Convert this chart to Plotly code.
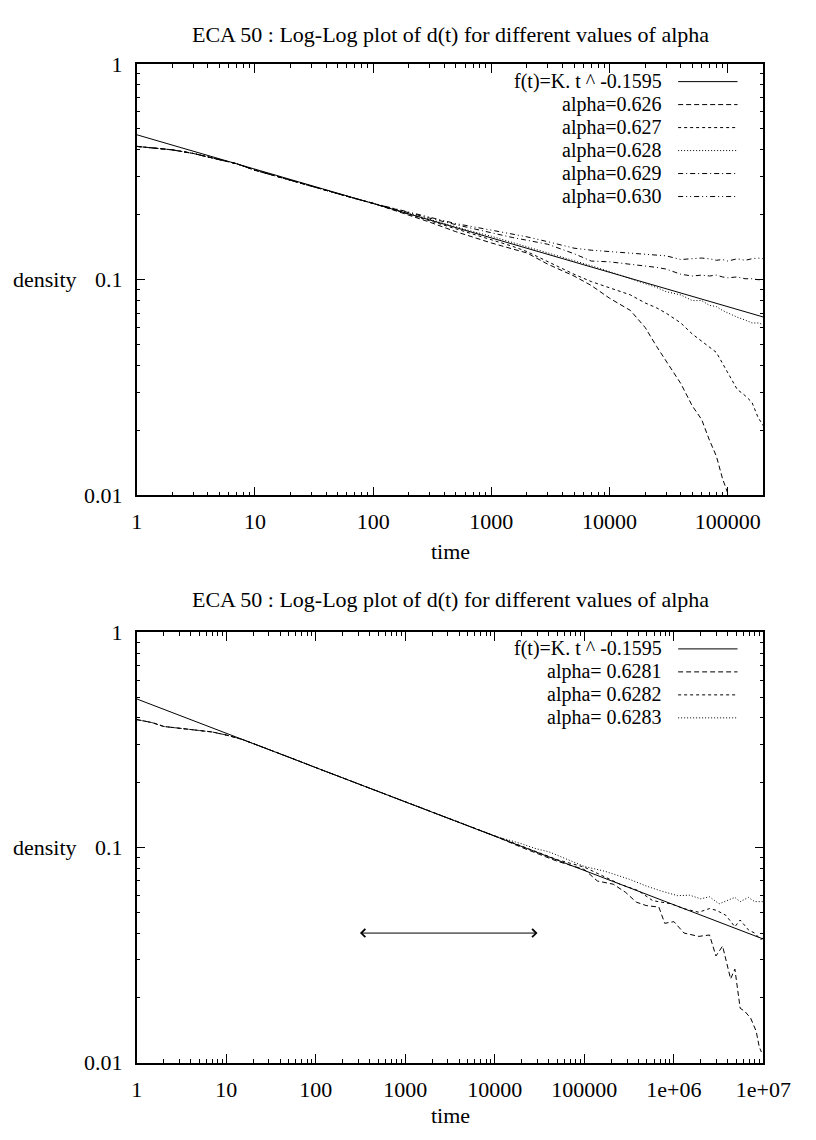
import math
import plotly.graph_objects as go

# ---------------- data ----------------
title_text = "ECA 50 : Log-Log plot of d(t) for different values of alpha"
fit_label = "f(t)=K. t ^ -0.1595"

# top panel
top_fit_t = [1, 200000]
top_fit_v = [0.47, 0.0671]

top_t = [1, 2, 3, 5, 7, 10, 15, 20, 30, 50, 70, 100, 150, 200, 300, 500, 700,
         1000, 1500, 2000, 3000, 5000, 7000, 10000, 15000, 20000, 25000, 30000,
         40000, 50000, 60000, 70000, 80000, 90000, 100000, 120000, 140000,
         160000, 180000, 200000]
top_early = [0.415, 0.400, 0.385, 0.362, 0.345, 0.322, 0.302, 0.289, 0.271,
             0.251, 0.238, 0.226]
top_labels = ["alpha=0.626", "alpha=0.627", "alpha=0.628", "alpha=0.629", "alpha=0.630"]
a626_tail = [0.210, 0.200, 0.185, 0.167, 0.157, 0.148, 0.139, 0.133, 0.118,
             0.104, 0.094, 0.082, 0.072, 0.060, 0.049, 0.042, 0.033, 0.026,
             0.0225, 0.018, 0.0152, 0.012, 0.0102]
a627_tail = [0.211, 0.201, 0.188, 0.172, 0.163, 0.154, 0.143, 0.135, 0.121,
             0.106, 0.098, 0.092, 0.085, 0.078, 0.074, 0.070, 0.063, 0.056,
             0.052, 0.049, 0.046, 0.041, 0.037, 0.031, 0.029, 0.027, 0.023, 0.021]
a628_tail = [0.212, 0.202, 0.190, 0.175, 0.167, 0.159, 0.149, 0.142, 0.133,
             0.122, 0.116, 0.109, 0.101, 0.096, 0.092, 0.088, 0.085, 0.080,
             0.080, 0.076, 0.075, 0.072, 0.070, 0.067, 0.065, 0.063, 0.063, 0.062]
a629_tail = [0.213, 0.204, 0.193, 0.180, 0.172, 0.165, 0.157, 0.152, 0.146,
             0.132, 0.122, 0.121, 0.118, 0.115, 0.114, 0.112, 0.106, 0.104,
             0.105, 0.104, 0.105, 0.103, 0.102, 0.103, 0.101, 0.101, 0.100, 0.100]
a630_tail = [0.214, 0.205, 0.195, 0.182, 0.176, 0.170, 0.163, 0.158, 0.150,
             0.140, 0.137, 0.135, 0.133, 0.131, 0.130, 0.129, 0.124, 0.125,
             0.126, 0.125, 0.123, 0.124, 0.122, 0.125, 0.123, 0.125, 0.126, 0.125]

# bottom panel
bot_fit_t = [1, 10000000]
bot_fit_v = [0.49, 0.0375]
bot_t_early = [1, 1.5, 2, 3, 5, 7, 10, 15, 20, 30, 50, 100, 200, 500, 1000,
               2000, 5000, 10000]
bot_early = [0.393, 0.380, 0.365, 0.358, 0.352, 0.344, 0.333, 0.318, 0.304,
             0.286, 0.263, 0.235, 0.211, 0.182, 0.163, 0.146, 0.126, 0.113]
bot_labels = ["alpha= 0.6281", "alpha= 0.6282", "alpha= 0.6283"]
b6281_t = [20000, 50000, 100000, 140000, 210000, 290000, 380000, 490000, 680000,
           790000, 1000000, 1300000, 1900000, 2500000, 2950000, 3500000,
           4300000, 4800000, 5500000, 6200000, 7200000, 8300000, 9000000, 9500000]
b6281_v = [0.100, 0.0862, 0.079, 0.0698, 0.0675, 0.0618, 0.0557, 0.0537, 0.0528,
           0.0444, 0.0452, 0.040, 0.0386, 0.0392, 0.0313, 0.0348, 0.0245, 0.0272,
           0.0179, 0.0173, 0.0161, 0.0140, 0.0118, 0.0112]
b6282_t = [20000, 50000, 100000, 250000, 400000, 580000, 930000, 1300000,
           1900000, 2500000, 3000000, 3800000, 4800000, 5500000, 6800000,
           8000000, 9300000, 10000000]
b6282_v = [0.101, 0.0877, 0.081, 0.0675, 0.063, 0.0566, 0.0547, 0.0519, 0.050,
           0.052, 0.051, 0.0484, 0.0428, 0.046, 0.0414, 0.040, 0.0373, 0.038]
b6283_t = [20000, 28000, 40000, 60000, 100000, 170000, 320000, 500000, 700000,
           1100000, 1500000, 2000000, 2500000, 3200000, 4000000, 4800000,
           5500000, 6800000, 8000000, 9300000, 10000000]
b6283_v = [0.104, 0.099, 0.0955, 0.089, 0.0816, 0.0775, 0.0711, 0.066, 0.063,
           0.0597, 0.060, 0.0577, 0.059, 0.0547, 0.057, 0.0586, 0.056, 0.0586,
           0.056, 0.0557, 0.056]

arrow_t = [300, 30000]
arrow_v = 0.04

top_xticks = [1, 10, 100, 1000, 10000, 100000]
top_xtext = ["1", "10", "100", "1000", "10000", "100000"]
bot_xticks = [1, 10, 100, 1000, 10000, 100000, 1000000, 10000000]
bot_xtext = ["1", "10", "100", "1000", "10000", "100000", "1e+06", "1e+07"]
yticks = [0.01, 0.1, 1]
ytext = ["0.01", "0.1", "1"]

# ---------------- styling ----------------
W, H = 816, 1140
FONT = "Liberation Serif"
FS = 22
LFS = 20          # legend font size (rows are tightly packed)
ROW = 23.5
X0, X1 = 128, 782
TOP_Y0, TOP_Y1 = 45, 486
BOT_Y0, BOT_Y1 = 626, 1066

DASH = {
    "solid": "solid",
    "long": "5px,3px",
    "short": "3px,3px",
    "dot": "1px,2px",
    "dashdot": "5px,3px,1px,3px",
    "dashdotdot": "5px,3px,1px,3px,1px,3px",
}

def fx(px):
    return px / W

def fy(py):
    return 1 - py / H

fig = go.Figure()

def add_line(t, v, dash, xa, ya):
    fig.add_trace(go.Scatter(x=t, y=v, mode="lines", xaxis=xa, yaxis=ya,
                             line=dict(color="black", width=1, dash=dash),
                             showlegend=False, hoverinfo="skip"))

# top panel traces
add_line(top_fit_t, top_fit_v, DASH["solid"], "x", "y")
tails = [a626_tail, a627_tail, a628_tail, a629_tail, a630_tail]
tdash = [DASH["long"], DASH["short"], DASH["dot"], DASH["dashdot"], DASH["dashdotdot"]]
for tail, d in zip(tails, tdash):
    vals = top_early + tail
    add_line(top_t[:len(vals)], vals, d, "x", "y")

# bottom panel traces
add_line(bot_fit_t, bot_fit_v, DASH["solid"], "x2", "y2")
bdash = [DASH["long"], DASH["short"], DASH["dot"]]
for (bt, bv), d in zip([(b6281_t, b6281_v), (b6282_t, b6282_v), (b6283_t, b6283_v)], bdash):
    add_line(bot_t_early + bt, bot_early + bv, d, "x2", "y2")

axis_common = dict(
    type="log", showline=True, linecolor="black", linewidth=1.5, mirror="ticks",
    ticks="inside", ticklen=9, tickwidth=1, tickcolor="black",
    showgrid=False, zeroline=False,
    tickfont=dict(family=FONT, size=FS, color="black"),
    minor=dict(ticks="inside", ticklen=4, tickwidth=1, tickcolor="black",
               dtick="D1", showgrid=False),
)

fig.update_layout(
    width=W, height=H, paper_bgcolor="white", plot_bgcolor="white",
    margin=dict(l=0, r=0, t=0, b=0), showlegend=False,
    font=dict(family=FONT, size=FS, color="black"),
    xaxis=dict(axis_common, domain=[fx(X0), fx(X1)], anchor="y",
               range=[0, math.log10(200000)], tickmode="array",
               tickvals=top_xticks, ticktext=top_xtext, ticklabelstandoff=6),
    yaxis=dict(axis_common, domain=[fy(TOP_Y1), fy(TOP_Y0)], anchor="x",
               range=[-2, 0], tickmode="array", tickvals=yticks, ticktext=ytext,
               ticklabelstandoff=8),
    xaxis2=dict(axis_common, domain=[fx(X0), fx(X1)], anchor="y2",
                range=[0, 7], tickmode="array",
                tickvals=bot_xticks, ticktext=bot_xtext, ticklabelstandoff=6),
    yaxis2=dict(axis_common, domain=[fy(BOT_Y1), fy(BOT_Y0)], anchor="x2",
                range=[-2, 0], tickmode="array", tickvals=yticks, ticktext=ytext,
                ticklabelstandoff=8),
)

ann = []
def text(x, y, s, xanchor="center", size=FS):
    ann.append(dict(x=fx(x), y=fy(y), xref="paper", yref="paper", text=s,
                    showarrow=False, xanchor=xanchor, yanchor="middle",
                    font=dict(family=FONT, size=size, color="black")))

# titles and axis labels
text(455, 15, title_text)
text(455, 592, title_text)
text(455, 543, "time")
text(455, 1120, "time")
text(32, (TOP_Y0 + TOP_Y1) / 2, "density")
text(32, (BOT_Y0 + BOT_Y1) / 2, "density")

# legends (gnuplot style: text then line sample)
shapes = []
def legend_entry(y, label, dash):
    text(678, y, label, xanchor="right", size=LFS)
    shapes.append(dict(type="line", xref="paper", yref="paper",
                       x0=fx(693), x1=fx(755), y0=fy(y), y1=fy(y),
                       line=dict(color="black", width=1, dash=dash)))

legend_entry(TOP_Y0 + 18, fit_label, DASH["solid"])
for i, (lab, d) in enumerate(zip(top_labels, tdash)):
    legend_entry(TOP_Y0 + 18 + ROW * (i + 1), lab, d)
legend_entry(BOT_Y0 + 17, fit_label, DASH["solid"])
for i, (lab, d) in enumerate(zip(bot_labels, bdash)):
    legend_entry(BOT_Y0 + 17 + ROW * (i + 1), lab, d)

# double-headed arrow in bottom panel
ann.append(dict(x=math.log10(arrow_t[1]), y=math.log10(arrow_v),
                ax=math.log10(arrow_t[0]), ay=math.log10(arrow_v),
                xref="x2", yref="y2", axref="x2", ayref="y2", text="",
                showarrow=True, arrowhead=4, startarrowhead=4,
                arrowside="end+start", arrowsize=1.6, startarrowsize=1.6,
                arrowwidth=1, arrowcolor="black"))

fig.update_layout(annotations=ann, shapes=shapes)
fig.write_html("out.html")
